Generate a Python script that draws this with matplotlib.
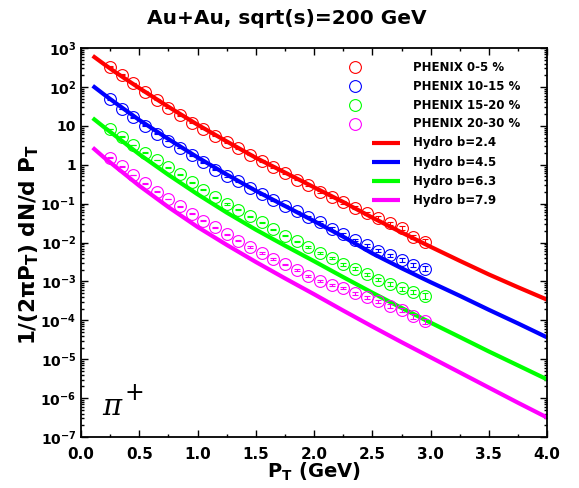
import math
import matplotlib
matplotlib.use("Agg")
import matplotlib.pyplot as plt
from matplotlib.ticker import MultipleLocator, LogLocator, FixedLocator, FuncFormatter, NullFormatter

plt.rcParams.update({
    "font.family": "DejaVu Sans", "font.weight": "bold", "axes.labelweight": "bold",
    "mathtext.fontset": "custom", "mathtext.rm": "DejaVu Sans:bold",
    "mathtext.bf": "DejaVu Sans:bold", "mathtext.default": "bf",
})

# ---- data ----
pt_data = [0.25, 0.35, 0.45, 0.55, 0.65, 0.75, 0.85, 0.95, 1.05, 1.15, 1.25, 1.35, 1.45, 1.55,
           1.65, 1.75, 1.85, 1.95, 2.05, 2.15, 2.25, 2.35, 2.45, 2.55, 2.65, 2.75, 2.85, 2.95]
phenix_0_5 = [331, 209, 126, 75.9, 46.8, 28.8, 18.6, 12.0, 8.32, 5.62, 3.80, 2.63, 1.82, 1.26,
              0.871, 0.617, 0.417, 0.295, 0.204, 0.148, 0.107, 0.0794, 0.0575, 0.0427, 0.0309,
              0.0234, 0.0138, 0.0105]
phenix_10_15 = [47.9, 26.9, 16.6, 10.2, 6.31, 4.07, 2.69, 1.78, 1.15, 0.741, 0.513, 0.372, 0.257,
                0.178, 0.126, 0.0891, 0.0631, 0.0447, 0.0331, 0.0229, 0.0162, 0.0117, 0.00851,
                0.00617, 0.00468, 0.00355, 0.00269, 0.00214]
phenix_15_20 = [8.32, 5.25, 3.24, 2.04, 1.32, 0.871, 0.575, 0.355, 0.229, 0.148, 0.0977, 0.0692,
                0.0468, 0.0331, 0.0219, 0.0151, 0.0107, 0.00759, 0.00550, 0.00407, 0.00275,
                0.00214, 0.00155, 0.00112, 0.000851, 0.000661, 0.000537, 0.000427]
phenix_20_30 = [1.51, 0.912, 0.550, 0.331, 0.204, 0.132, 0.0851, 0.0550, 0.0363, 0.0245, 0.0162,
                0.0112, 0.00776, 0.00537, 0.00380, 0.00275, 0.00195, 0.00141, 0.00105, 0.000813,
                0.000676, 0.000501, 0.000398, 0.000309, 0.000240, 0.000182, 0.000126, 0.0000933]
rel_err = [0.02, 0.02, 0.02, 0.02, 0.02, 0.025, 0.025, 0.03, 0.03, 0.03, 0.035, 0.035, 0.04, 0.04,
           0.045, 0.05, 0.05, 0.055, 0.06, 0.065, 0.07, 0.08, 0.09, 0.10, 0.11, 0.12, 0.13, 0.15]

pt_hydro = [0.1, 0.2, 0.3, 0.5, 0.75, 1.0, 1.25, 1.5, 1.75, 2.0, 2.25, 2.5, 2.75, 3.0, 3.25, 3.5,
            3.75, 4.0]
hydro_b24 = [631, 380, 234, 93.3, 30.9, 10.7, 3.98, 1.51, 0.631, 0.263, 0.110, 0.0437, 0.0182,
             0.00776, 0.00339, 0.00151, 0.000708, 0.000339]
hydro_b45 = [107, 63.1, 38.0, 14.1, 4.57, 1.55, 0.562, 0.214, 0.0871, 0.0355, 0.0141, 0.00525,
             0.00219, 0.000955, 0.000427, 0.000186, 0.0000832, 0.0000363]
hydro_b63 = [15.8, 9.12, 5.37, 1.86, 0.550, 0.174, 0.0589, 0.0214, 0.00832, 0.00331, 0.00129,
             0.000513, 0.000209, 0.0000871, 0.0000372, 0.0000158, 0.00000692, 0.00000302]
hydro_b79 = [2.75, 1.51, 0.871, 0.288, 0.0813, 0.0251, 0.00871, 0.00316, 0.00120, 0.000468,
             0.000178, 0.0000692, 0.0000275, 0.0000112, 0.00000457, 0.00000186, 0.000000759,
             0.000000316]

colors = ["#ff0000", "#0000ff", "#00ff00", "#ff00ff"]
phenix = [phenix_0_5, phenix_10_15, phenix_15_20, phenix_20_30]
hydro = [hydro_b24, hydro_b45, hydro_b63, hydro_b79]
phenix_labels = ["PHENIX 0-5 %", "PHENIX 10-15 %", "PHENIX 15-20 %", "PHENIX 20-30 %"]
hydro_labels = ["Hydro b=2.4", "Hydro b=4.5", "Hydro b=6.3", "Hydro b=7.9"]

fig = plt.figure(figsize=(5.79, 4.88), dpi=100)
ax = fig.add_axes([0.140, 0.1045, 0.805, 0.797])

for c, h in zip(colors, hydro):
    ax.plot(pt_hydro, h, "-", color=c, lw=3.0, solid_capstyle="butt", zorder=2)
for c, p in zip(colors, phenix):
    err = [v * e for v, e in zip(p, rel_err)]
    ax.errorbar(pt_data, p, yerr=err, fmt="none", ecolor=c, elinewidth=0.8, capsize=2.5,
                capthick=0.8, zorder=3)
    ax.plot(pt_data, p, "o", mfc="none", mec=c, ms=8.5, mew=0.8, zorder=3)

ax.set_yscale("log")
ax.set_xlim(0, 4.0)
ax.set_ylim(1e-7, 1e3)
ax.xaxis.set_major_locator(MultipleLocator(0.5))
ax.xaxis.set_minor_locator(MultipleLocator(0.25))
ax.xaxis.set_major_formatter(FuncFormatter(lambda v, p: f"{v:.1f}"))
ax.yaxis.set_major_locator(FixedLocator([10.0 ** k for k in range(-7, 4)]))
ax.yaxis.set_minor_locator(LogLocator(base=10, subs=range(2, 10), numticks=30))
ax.yaxis.set_minor_formatter(NullFormatter())


def ylab(v, p):
    k = int(round(math.log10(v)))
    if k == 0:
        return "1"
    if k == 1:
        return "10"
    return r"$10^{%d}$" % k


ax.yaxis.set_major_formatter(FuncFormatter(ylab))
ax.tick_params(which="both", direction="in", top=True, right=True, width=1.0)
ax.tick_params(axis="y", labelsize=10)
ax.tick_params(axis="x", labelsize=11, pad=7)
ax.tick_params(which="major", length=5)
ax.tick_params(which="minor", length=2.5)
for s in ax.spines.values():
    s.set_linewidth(1.3)

ax.set_xlabel(r"P$_\mathrm{T}$ (GeV)", fontsize=14, fontweight="bold", labelpad=-1)
fig.text(0.050, 0.500, r"1/(2$\pi$P$_\mathrm{T}$) dN/d P$_\mathrm{T}$", rotation=90,
         ha="center", va="center", rotation_mode="anchor", fontsize=15.5, fontweight="bold")
fig.text(0.496, 0.962, "Au+Au, sqrt(s)=200 GeV", ha="center", va="center", fontsize=14.5)

ax.text(0.045, 0.042, "π", transform=ax.transAxes, fontsize=21, family="DejaVu Serif",
        style="italic", weight="normal", ha="left", va="bottom")
ax.text(0.094, 0.082, "+", transform=ax.transAxes, fontsize=17, family="DejaVu Sans",
        weight="normal", ha="left", va="bottom")

# legend drawn by hand to reproduce the layout
rows = [0.951, 0.902, 0.853, 0.805, 0.756, 0.707, 0.658, 0.609]
for i in range(4):
    ax.plot([0.588], [rows[i]], "o", mfc="none", mec=colors[i], ms=8.5, mew=0.8,
            transform=ax.transAxes, clip_on=False)
    ax.text(0.712, rows[i], phenix_labels[i], transform=ax.transAxes, fontsize=8.5,
            va="center", ha="left")
for i in range(4):
    ax.plot([0.624, 0.685], [rows[4 + i]] * 2, "-", color=colors[i], lw=3.0,
            transform=ax.transAxes, solid_capstyle="butt")
    ax.text(0.712, rows[4 + i], hydro_labels[i], transform=ax.transAxes, fontsize=8.5,
            va="center", ha="left")

fig.savefig("out.png", dpi=100)
